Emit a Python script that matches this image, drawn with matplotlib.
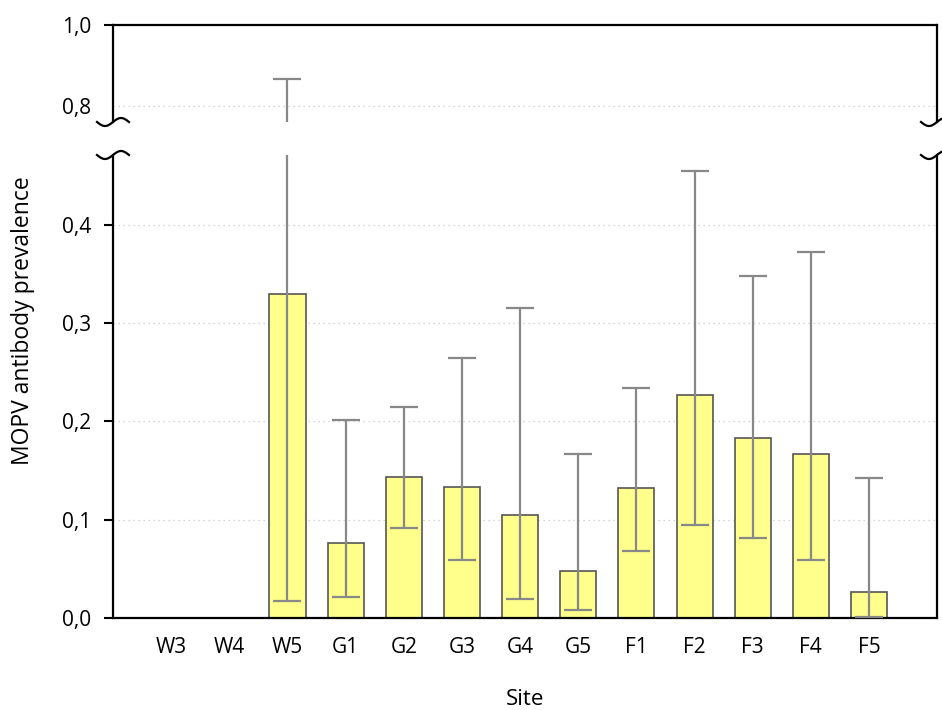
import numpy as np
import matplotlib
matplotlib.use("Agg")
import matplotlib.pyplot as plt

plt.rcParams['font.family'] = ['Open Sans', 'DejaVu Sans']

sites = ["W3", "W4", "W5", "G1", "G2", "G3", "G4", "G5", "F1", "F2", "F3", "F4", "F5"]
prevalence = [0.0, 0.0, 0.330, 0.076, 0.143, 0.133, 0.105, 0.048, 0.132, 0.227, 0.183, 0.167, 0.026]
ci_low = [0.0, 0.0, 0.017, 0.021, 0.092, 0.059, 0.019, 0.008, 0.068, 0.095, 0.081, 0.059, 0.001]
ci_high = [0.0, 0.0, 0.867, 0.201, 0.215, 0.264, 0.315, 0.167, 0.234, 0.455, 0.348, 0.372, 0.142]

low_ticks = [0.0, 0.1, 0.2, 0.3, 0.4]
low_labels = ["0,0", "0,1", "0,2", "0,3", "0,4"]
high_ticks = [0.8, 1.0]
high_labels = ["0,8", "1,0"]

x = np.arange(len(sites))
vals = np.array(prevalence)
yerr = [vals - np.array(ci_low), np.array(ci_high) - vals]
has_err = np.array(ci_high) > 0

fig = plt.figure(figsize=(9.42, 7.10), dpi=100)
ax_lo = fig.add_axes([0.12, 0.1296, 0.8747, 0.6521])
ax_hi = fig.add_axes([0.12, 0.8282, 0.8747, 0.1366])

for ax in (ax_lo, ax_hi):
    ax.bar(x, vals, width=0.62, color="#ffff8c", edgecolor="#555555", linewidth=1.2, zorder=2)
    ax.errorbar(x[has_err], vals[has_err],
                yerr=[yerr[0][has_err], yerr[1][has_err]],
                fmt="none", ecolor="#888888", elinewidth=1.6, capsize=10, capthick=1.6, zorder=3)
    ax.set_xlim(-1.0, 13.17)
    ax.tick_params(axis="y", direction="out", length=6.5, width=1.5, labelsize=15, pad=9)
    ax.grid(axis="y", linestyle=(0, (1, 3)), color="#c8c8c8", linewidth=0.9, zorder=0)
    ax.set_axisbelow(True)
    for s in ax.spines.values():
        s.set_linewidth(1.6)

ax_lo.set_ylim(0, 0.471)
ax_lo.set_yticks(low_ticks)
ax_lo.set_yticklabels(low_labels)
ax_lo.spines["top"].set_visible(False)
ax_lo.set_xticks(x)
ax_lo.set_xticklabels(sites, fontsize=15)
ax_lo.tick_params(axis="x", length=0, pad=14)
ax_lo.set_xlabel("Site", fontsize=16, labelpad=22)

ax_hi.set_ylim(0.76, 1.0)
ax_hi.set_yticks(high_ticks)
ax_hi.set_yticklabels(high_labels)
ax_hi.yaxis.get_major_ticks()[0].tick1line.set_visible(False)
ax_hi.spines["bottom"].set_visible(False)
ax_hi.set_xticks([])
for t in ax_hi.get_ygridlines()[1:]:
    t.set_visible(False)
for t in ax_lo.get_ygridlines()[:1]:
    t.set_visible(False)

fig.text(0.024, 0.548, "MOPV antibody prevalence", rotation=90, fontsize=16.5,
         ha="center", va="center")

# break marks (tilde shapes) in pixel space
W, H = 942, 710
tt = np.linspace(-16, 16, 60)
curve = 4 * np.sin(np.pi * tt / 16)
for xc in (113, 937):
    for yc in (122, 155):
        fig.add_artist(plt.Line2D((xc + tt) / W, (H - yc + curve) / H,
                                  color="black", linewidth=1.6, transform=fig.transFigure))

fig.savefig("out.png", dpi=100)
